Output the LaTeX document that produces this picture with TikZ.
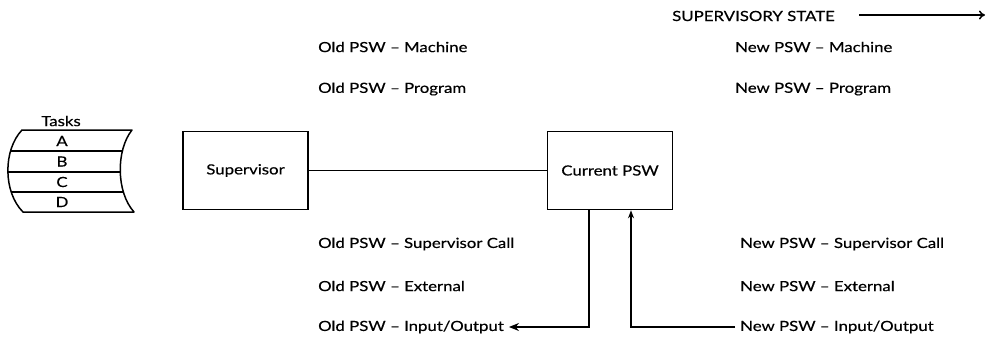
\documentclass[tikz,border=0pt]{standalone}
\usepackage{fontspec}
\setmainfont{Lato}[FakeStretch=1.2, FakeBold=0.4]
\usetikzlibrary{arrows.meta,calc}
\begin{document}
\begin{tikzpicture}[x=1pt,y=-1pt,
  lbl/.style={font=\fontsize{14}{16}\selectfont, inner sep=0pt, anchor=west},
  boxn/.style={draw, line width=1.6pt, minimum width=125pt, minimum height=78pt, font=\fontsize{14}{16}\selectfont},
  ln/.style={line width=1.5pt},
  tl/.style={font=\fontsize{14}{16}\selectfont, inner sep=0pt}
]
\useasboundingbox (0,0) rectangle (986,351);

% Supervisory state
\node[lbl] (state) at (672,16) {SUPERVISORY STATE};
\coordinate (stateend) at (985,15);
\draw[ln, -{To[length=6pt,width=9pt]}] ([xshift=24pt]state.east |- stateend) -- (stateend);

% top labels
\node[lbl] (oldmach) at (318,47) {Old PSW \textendash{} Machine};
\node[lbl] (oldprog) at (318,89) {Old PSW \textendash{} Program};
\node[lbl] (newmach) at (735,47) {New PSW \textendash{} Machine};
\node[lbl] (newprog) at (735,89) {New PSW \textendash{} Program};

% bottom labels
\node[lbl] (oldsvc) at (318,244) {Old PSW \textendash{} Supervisor Call};
\node[lbl] (oldext) at (318,286) {Old PSW \textendash{} External};
\node[lbl] (oldio)  at (318,327) {Old PSW \textendash{} Input/Output};
\node[lbl] (newsvc) at (740,244) {New PSW \textendash{} Supervisor Call};
\node[lbl] (newext) at (740,286) {New PSW \textendash{} External};
\node[lbl] (newio)  at (740,327) {New PSW \textendash{} Input/Output};

% boxes
\node[boxn] (sup) at (245.5,170.5) {Supervisor};
\node[boxn] (cur) at (610,170.5) {Current PSW};
\draw[ln] (sup.east) -- (cur.west);

% arrows from current PSW
\draw[ln, -{Stealth[length=10pt,width=8pt]}] ([xshift=-21pt]cur.south) |- ([xshift=5pt]oldio.east);
\draw[ln, -{Stealth[length=8pt,width=6pt]}] ([xshift=-5pt]newio.west) -| ([xshift=21pt]cur.south);

% Tasks stack
\node[tl] (tasks) at (61,121) {Tasks};
\begin{scope}
  \path[clip] (22,130) -- (132,130) .. controls (116,150) and (116,192) .. (134,212)
     -- (23,212) .. controls (3,192) and (3,150) .. cycle;
  \foreach \yy in {151,172,192} \draw[ln] (0,\yy) -- (150,\yy);
\end{scope}
\draw[ln, line join=round] (22,130) -- (132,130) .. controls (116,150) and (116,192) .. (134,212)
     -- (23,212) .. controls (3,192) and (3,150) .. cycle;
\node[tl] (ta) at (62,141) {A};
\node[tl] (tb) at (62,161.5) {B};
\node[tl] (tc) at (62,182) {C};
\node[tl] (td) at (62,202) {D};
\end{tikzpicture}
\end{document}
